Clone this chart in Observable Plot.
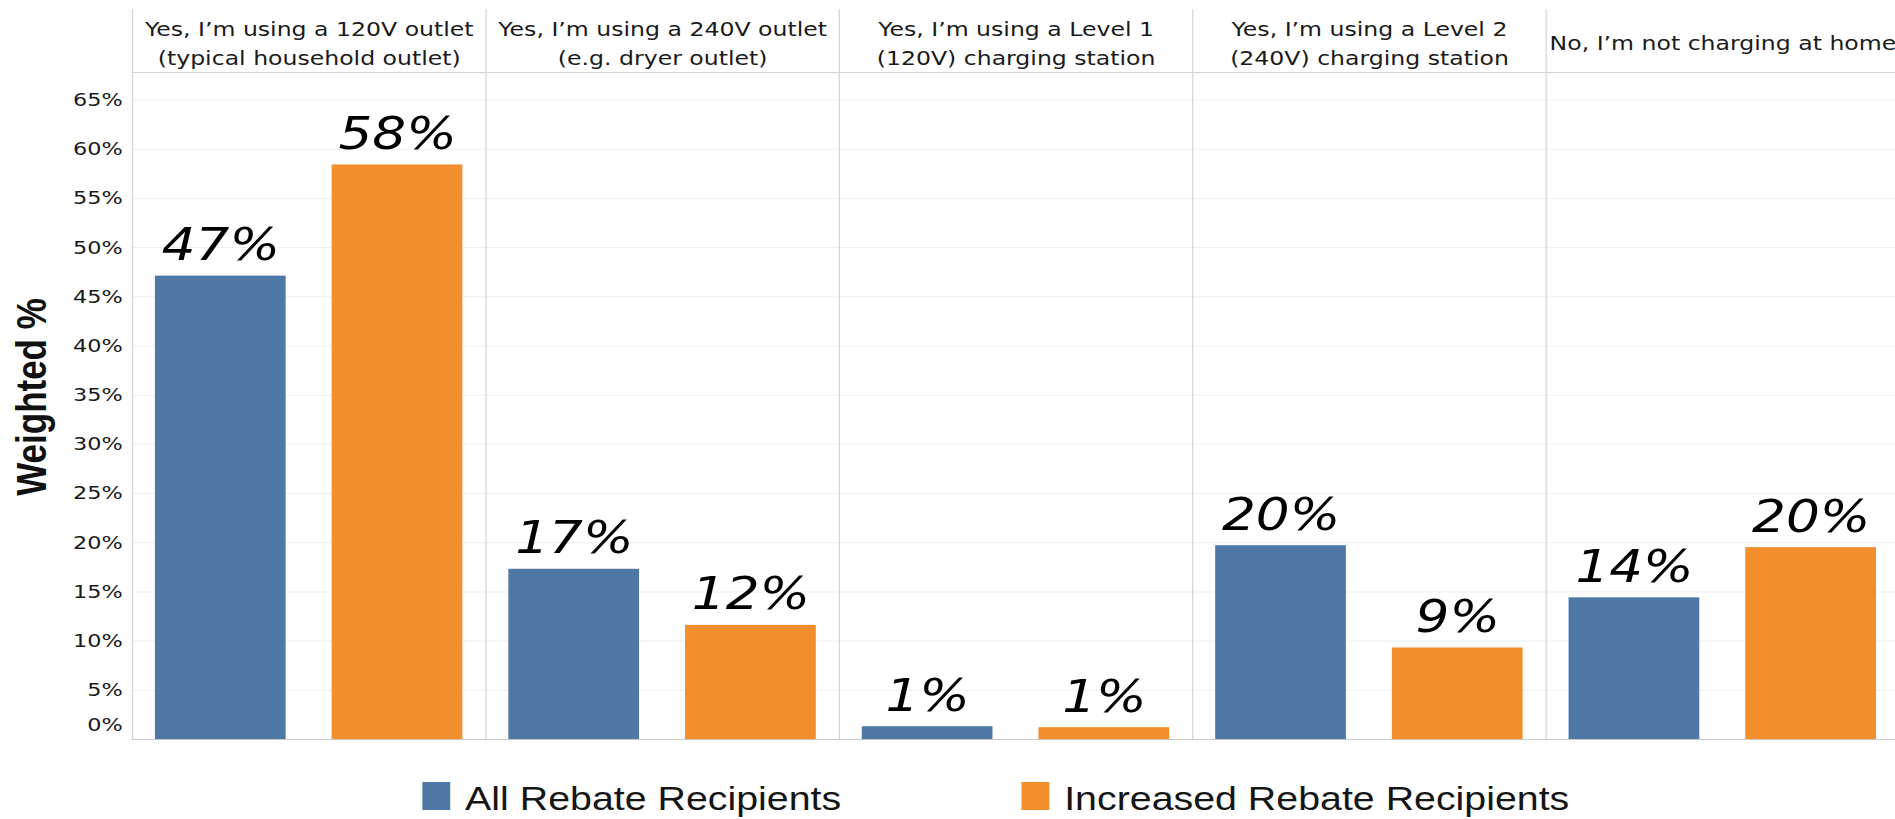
<!DOCTYPE html>
<html><head><meta charset="utf-8">
<script src="https://cdn.jsdelivr.net/npm/d3@7"></script>
<script src="https://cdn.jsdelivr.net/npm/@observablehq/plot@0.6"></script>
<style>
html,body{margin:0;padding:0;background:#fff;overflow:hidden;}
#wrap{position:relative;width:1895px;height:819px;overflow:hidden;background:#fff;}
#legend{position:absolute;left:0;top:778.7px;transform-origin:0 0;white-space:nowrap;
  font-family:"Liberation Sans",Arial,sans-serif;font-size:32.5px;line-height:40px;color:#151515;}
#legend .sw{display:inline-block;width:23.1px;height:28px;vertical-align:baseline;margin-right:12.4px;}
#legend .it{display:inline-block;}
</style>
</head><body><div id="wrap"></div>
<script>
// ---- data ----
const categories = [
  "Yes, I\u2019m using a 120V outlet\n(typical household outlet)",
  "Yes, I\u2019m using a 240V outlet\n(e.g. dryer outlet)",
  "Yes, I\u2019m using a Level 1\n(120V) charging station",
  "Yes, I\u2019m using a Level 2\n(240V) charging station",
  "No, I\u2019m not charging at home"
];
const series = ["All Rebate Recipients", "Increased Rebate Recipients"];
const allRebate = [47.1, 17.3, 1.3, 19.7, 14.4];
const increasedRebate = [58.4, 11.6, 1.2, 9.3, 19.5];
const colors = ["#4e79a7", "#f28e2b"];
const yTicks = [0, 5, 10, 15, 20, 25, 30, 35, 40, 45, 50, 55, 60, 65];
const yAxisTitle = "Weighted %";

// ---- layout ----
const K = 1.2103;            // horizontal stretch of the whole chart
const W = 1569, H = 740;
const yMax = 74.2;           // top of the header band
const headerLine = 67.8;     // bottom of the header band

const data = categories.flatMap((c, i) => [
  {category: c, series: series[0], value: allRebate[i]},
  {category: c, series: series[1], value: increasedRebate[i]}
]);

const chart = Plot.plot({
  width: W, height: H,
  marginLeft: 109, marginRight: 0, marginTop: 9, marginBottom: 1,
  style: {fontFamily: "'DejaVu Sans', Verdana, sans-serif", color: "#222", background: "#fff"},
  fx: {domain: categories, padding: 0, axis: null},
  x: {domain: series, paddingInner: 0.26, paddingOuter: 0.128, axis: null},
  y: {domain: [0, yMax]},
  color: {domain: series, range: colors},
  marks: [
    Plot.gridY(yTicks.slice(1), {stroke: "#efefef", strokeOpacity: 1}),
    Plot.ruleY([headerLine], {stroke: "#d4d4d4"}),
    Plot.frame({anchor: "left", stroke: "#d4d4d4"}),
    Plot.barY(data, {fx: "category", x: "series", y: "value", fill: "series"}),
    Plot.ruleY([0], {stroke: "#c8c8c8"}),
    Plot.text(data, {fx: "category", x: "series", y: "value",
      text: d => Math.round(d.value) + "%", lineAnchor: "bottom", dy: -16,
      fontSize: 44, fontStyle: "italic", fill: "#000"}),
    Plot.text(categories, {fx: d => d, text: d => d, frameAnchor: "top", lineAnchor: "middle",
      textAnchor: "middle", dy: 31.5, fontSize: 19.5, lineHeight: 1.49, fill: "#1a1a1a"}),
    Plot.axisY(yTicks.slice(1), {tickSize: 0, tickPadding: 8, fontSize: 18.5,
      tickFormat: d => d + "%", label: null, fill: "#1a1a1a"}),
    Plot.axisY([0], {tickSize: 0, tickPadding: 8, fontSize: 18.5,
      tickFormat: d => d + "%", label: null, dy: -14, fill: "#1a1a1a"}),
    Plot.text([{category: categories[0], label: yAxisTitle}], {fx: "category", text: "label",
      frameAnchor: "left", textAnchor: "middle", lineAnchor: "middle", rotate: -90,
      dx: -83, dy: 22.5, fontSize: 35, fontWeight: "bold",
      fontFamily: "'Liberation Sans', Arial, sans-serif", fill: "#111"})
  ]
});

chart.setAttribute("width", Math.round(W * K));
chart.setAttribute("height", H);
chart.setAttribute("viewBox", `0 0 ${W} ${H}`);
chart.setAttribute("preserveAspectRatio", "none");
chart.style.maxWidth = "none";
chart.style.width = Math.round(W * K) + "px";
chart.style.height = H + "px";
chart.style.display = "block";

const wrap = document.getElementById("wrap");
wrap.appendChild(chart);

// ---- legend from the chart's color scale ----
const color = chart.scale("color");
const legend = document.createElement("div");
legend.id = "legend";
legend.style.transform = `scaleX(${K})`;
legend.style.paddingLeft = "348.8px";
color.domain.forEach((d, i) => {
  const item = document.createElement("span");
  item.className = "it";
  if (i < color.domain.length - 1) item.style.marginRight = "148.8px";
  const sw = document.createElement("span");
  sw.className = "sw";
  sw.style.background = color.range[i];
  item.appendChild(sw);
  item.appendChild(document.createTextNode(d));
  legend.appendChild(item);
});
wrap.appendChild(legend);
</script>
</body></html>
